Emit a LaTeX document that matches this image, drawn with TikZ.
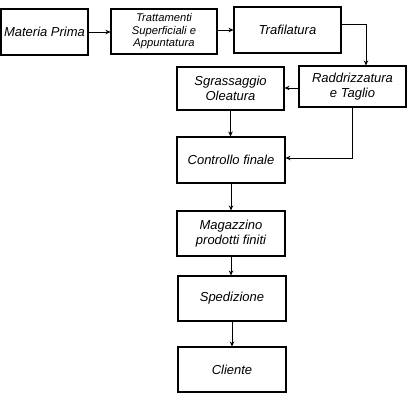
\documentclass[tikz,border=0pt]{standalone}
\usepackage{fontspec}
\setmainfont{Liberation Sans}
\usetikzlibrary{arrows.meta}
\begin{document}
\begin{tikzpicture}[x=1pt,y=-1pt,
  box/.style={draw,line width=1.1pt,rectangle,align=center,inner sep=1pt,
    font=\itshape\fontsize{13}{15}\selectfont},
  small/.style={font=\itshape\fontsize{11.2}{12.5}\selectfont},
  arr/.style={line width=0.7pt,-{Stealth[length=5pt,width=4.5pt]}}]
\useasboundingbox (0,0) rectangle (409,400);
\node[box,minimum width=87pt,minimum height=46pt] (mp) at (44.5,32) {Materia Prima};
\node[box,small,minimum width=106pt,minimum height=45pt] (tr) at (164,31.5) {Trattamenti\\Superficiali e\\Appuntatura};
\node[box,minimum width=107pt,minimum height=46pt] (tf) at (287.5,30) {Trafilatura};
\node[box,minimum width=107pt,minimum height=41pt] (rt) at (352.5,86.5) {Raddrizzatura\\e Taglio};
\node[box,minimum width=107pt,minimum height=43pt] (sg) at (230.5,88.5) {Sgrassaggio\\Oleatura};
\node[box,minimum width=108pt,minimum height=46pt] (cf) at (231,160) {Controllo finale};
\node[box,minimum width=108pt,minimum height=45pt] (mg) at (231,233.5) {Magazzino\\prodotti finiti};
\node[box,minimum width=108pt,minimum height=45pt] (sp) at (232,298.5) {Spedizione};
\node[box,minimum width=108pt,minimum height=45pt] (cl) at (232,369.5) {Cliente};
\draw[arr] (mp.east) -- (tr.west |- mp.east);
\draw[arr] ([yshift=1.5pt]tr.east) -- (tf.west);
\draw[arr] ([yshift=6pt]tf.east) -| ([xshift=13.5pt]rt.north);
\draw[arr] ([yshift=-1.5pt]rt.west) -- ([yshift=-1.5pt]rt.west -| sg.east);
\draw[arr] (sg.south) -- (cf.north -| sg.south);
\draw[arr] (rt.south) |- ([yshift=2pt]cf.east);
\draw[arr] (cf.south) -- (mg.north);
\draw[arr] (mg.south) -- (mg.south |- sp.north);
\draw[arr] (sp.south) -- (cl.north);
\end{tikzpicture}
\end{document}
